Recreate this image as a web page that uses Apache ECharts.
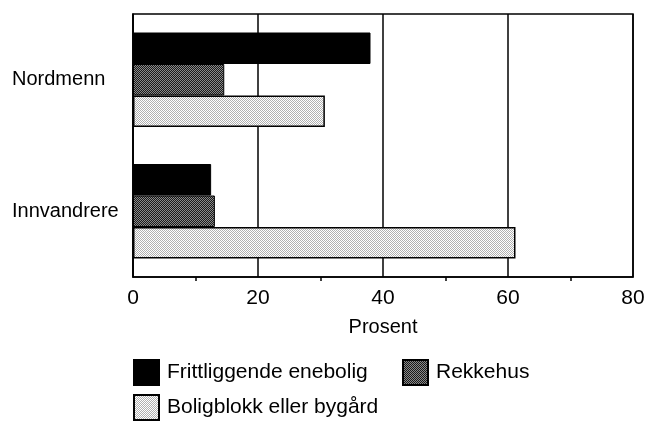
<!DOCTYPE html>
<html>
  <head>
    <meta charset="utf-8" />
    <title>Boligtype</title>
    <script src="https://cdn.jsdelivr.net/npm/echarts@6/dist/echarts.min.js"></script>
    <style>
      html, body { margin: 0; padding: 0; background: #fff; }
    </style>
  </head>
  <body>
    <div id="chart" style="width: 648px; height: 423px"></div>
    <script>
      var categories = ["Nordmenn", "Innvandrere"];
      var seriesNames = ["Frittliggende enebolig", "Rekkehus", "Boligblokk eller bygård"];
      var frittliggende = [38, 12.5];
      var rekkehus = [14.6, 13.1];
      var boligblokk = [30.7, 61.2];
      var xTicks = [0, 20, 40, 60, 80];

      var font = '"Liberation Sans Narrow", "Liberation Sans", Arial, sans-serif';

      // small dithered tiles to mimic the print screen
      function makePattern(c1, c2) {
        var cv = document.createElement("canvas");
        cv.width = 2;
        cv.height = 2;
        var ctx = cv.getContext("2d");
        ctx.fillStyle = c1;
        ctx.fillRect(0, 0, 2, 2);
        ctx.fillStyle = c2;
        ctx.fillRect(0, 0, 1, 1);
        ctx.fillRect(1, 1, 1, 1);
        return { image: cv, repeat: "repeat" };
      }
      var darkFill = makePattern("#1a1a1a", "#8a8a8a");
      var lightFill = makePattern("#ffffff", "#b0b0b0");

      function legendAt(name, left, top) {
        return {
          data: [name],
          left: left,
          top: top,
          itemWidth: 25,
          itemHeight: 25,
          itemGap: 0,
          icon: "rect",
          textStyle: { fontFamily: font, fontSize: 21, color: "#000", padding: [0, 0, 0, 3] },
        };
      }

      var chart = echarts.init(document.getElementById("chart"));
      chart.setOption({
        animation: false,
        textStyle: { fontFamily: font },
        grid: {
          left: 133,
          right: 15,
          top: 14,
          bottom: 146,
          show: true,
          borderColor: "#000",
          borderWidth: 1.5,
        },
        legend: [
          legendAt(seriesNames[0], 128, 354),
          legendAt(seriesNames[1], 397, 354),
          legendAt(seriesNames[2], 128, 389),
        ],
        xAxis: {
          type: "value",
          min: xTicks[0],
          max: xTicks[xTicks.length - 1],
          interval: 20,
          name: "Prosent",
          nameLocation: "middle",
          nameGap: 40,
          nameTextStyle: { fontFamily: font, fontSize: 20, color: "#000" },
          axisLine: { show: true, lineStyle: { color: "#000", width: 1.5 } },
          axisTick: { show: false },
          minorTick: { show: true, splitNumber: 2, length: 4, lineStyle: { color: "#000", width: 1.5 } },
          splitLine: { show: true, lineStyle: { color: "#000", width: 1.5 } },
          axisLabel: { fontFamily: font, fontSize: 21, color: "#000", margin: 11 },
        },
        yAxis: {
          type: "category",
          data: categories,
          inverse: true,
          axisLine: { show: true, lineStyle: { color: "#000", width: 1.5 } },
          axisTick: { show: false },
          axisLabel: { fontFamily: font, fontSize: 20, color: "#000", align: "left", margin: 121 },
        },
        series: [
          {
            name: seriesNames[0],
            type: "bar",
            data: frittliggende,
            barWidth: 31.5,
            barGap: 0,
            itemStyle: { color: "#000", borderColor: "#000", borderWidth: 1 },
          },
          {
            name: seriesNames[1],
            type: "bar",
            data: rekkehus,
            barWidth: 31.5,
            barGap: 0,
            itemStyle: { color: darkFill, borderColor: "#000", borderWidth: 1 },
          },
          {
            name: seriesNames[2],
            type: "bar",
            data: boligblokk,
            barWidth: 31.5,
            barGap: 0,
            itemStyle: { color: lightFill, borderColor: "#000", borderWidth: 1.5 },
          },
        ],
      });
    </script>
  </body>
</html>
